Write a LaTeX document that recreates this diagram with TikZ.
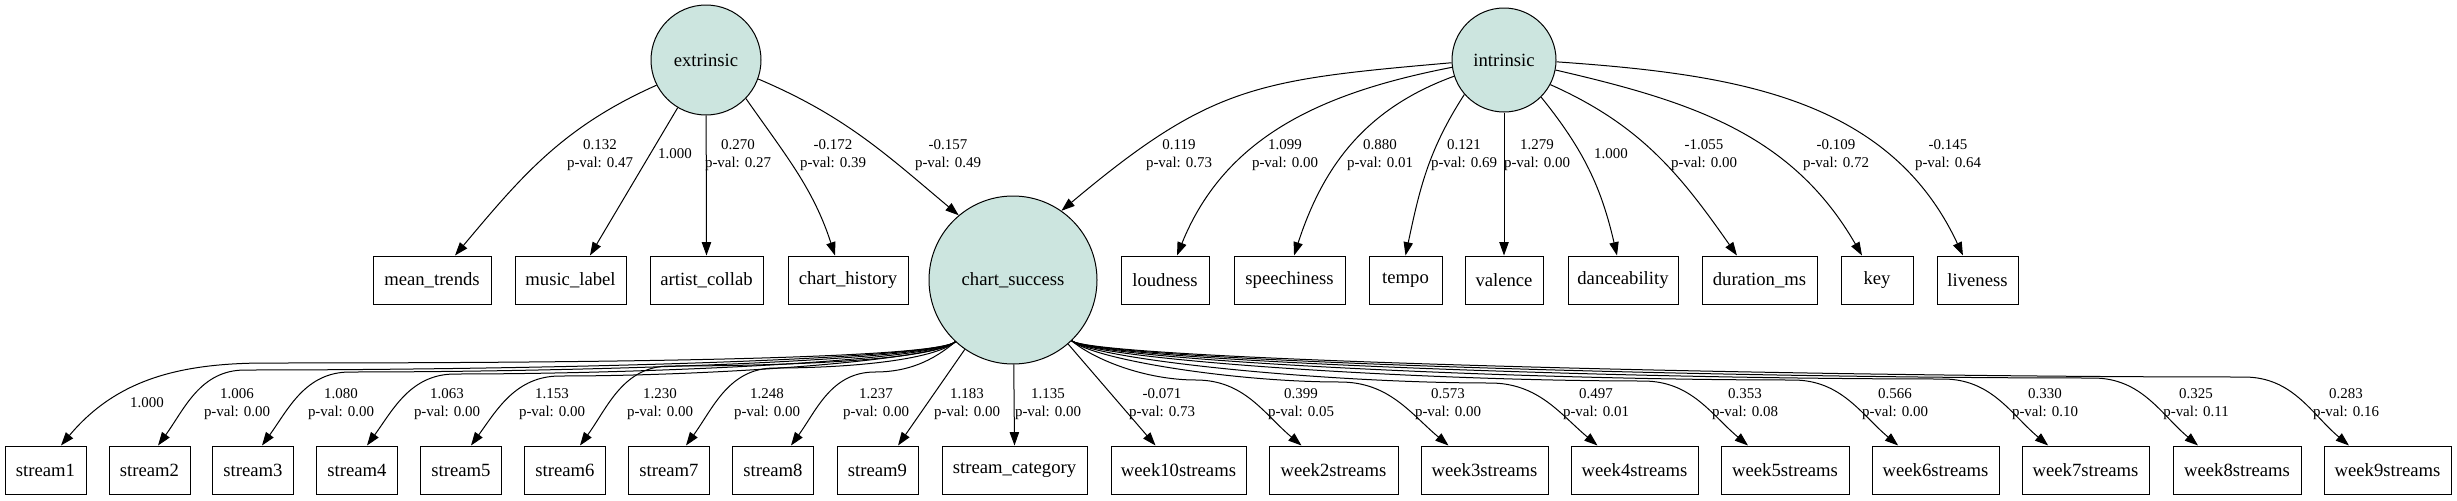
\documentclass[tikz,border=0pt]{standalone}
\usepackage{fontspec}
\setmainfont{Liberation Serif}
\usetikzlibrary{arrows.meta}
\definecolor{latfill}{RGB}{204,229,223}
\tikzset{every picture/.style={line width=0.75pt}}
\tikzset{
	lat/.style={draw, circle, fill=latfill, inner sep=0pt, font=\fontsize{14}{16}\selectfont},
	obs/.style={draw, rectangle, minimum height=36pt, inner sep=0pt, font=\fontsize{14}{16}\selectfont},
	lbl/.style={align=center, inner sep=0pt, font=\fontsize{11.2}{13.5}\selectfont},
	edge/.style={-{Triangle[length=10pt,width=7pt]}}}

\begin{document}
\begin{tikzpicture}[x=0.75pt,y=0.75pt,yscale=-1,xscale=1]
	\path (0,0) rectangle (2457,500); %keep the frame of the reference

	%Shape: Circle
	\draw (706,60) node[lat, minimum size=82.5pt] (ext) {extrinsic};
	%Shape: Circle
	\draw (1504,60) node[lat, minimum size=78pt] (int) {intrinsic};
	%Shape: Circle
	\draw (1013,280) node[lat, minimum size=126pt] (cs) {chart\_success};

	%Shape: Rectangle (upper row)
	\draw (432,280) node[obs, minimum width=88.5pt] (meantrends) {mean\_trends};
	\draw (570.5,280) node[obs, minimum width=83.25pt] (musiclabel) {music\_label};
	\draw (706.5,280) node[obs, minimum width=84.75pt] (artistcollab) {artist\_collab};
	\draw (848,280) node[obs, minimum width=90pt] (charthistory) {chart\_history};
	\draw (1165,280) node[obs, minimum width=66pt] (loudness) {loudness};
	\draw (1289.5,280) node[obs, minimum width=83.25pt] (speechiness) {speechiness};
	\draw (1405.5,280) node[obs, minimum width=54.75pt] (tempo) {tempo};
	\draw (1504,280) node[obs, minimum width=58.5pt] (valence) {valence};
	\draw (1623,280) node[obs, minimum width=82.5pt] (danceability) {danceability};
	\draw (1759.5,280) node[obs, minimum width=86.25pt] (durationms) {duration\_ms};
	\draw (1877,280) node[obs, minimum width=54pt] (key) {key};
	\draw (1977.5,280) node[obs, minimum width=60.75pt] (liveness) {liveness};

	%Shape: Rectangle (lower row)
	\draw (45.5,470) node[obs, minimum width=60.75pt] (stream1) {stream1};
	\draw (149.5,470) node[obs, minimum width=60.75pt] (stream2) {stream2};
	\draw (253,470) node[obs, minimum width=60.75pt] (stream3) {stream3};
	\draw (357,470) node[obs, minimum width=60.75pt] (stream4) {stream4};
	\draw (461,470) node[obs, minimum width=60.75pt] (stream5) {stream5};
	\draw (565,470) node[obs, minimum width=60.75pt] (stream6) {stream6};
	\draw (669,470) node[obs, minimum width=60.75pt] (stream7) {stream7};
	\draw (773,470) node[obs, minimum width=60.75pt] (stream8) {stream8};
	\draw (877.5,470) node[obs, minimum width=60.75pt] (stream9) {stream9};
	\draw (1014.5,470) node[obs, minimum width=108.75pt] (streamcat) {stream\_category};
	\draw (1178.5,470) node[obs, minimum width=101.25pt] (week10) {week10streams};
	\draw (1333.5,470) node[obs, minimum width=96.75pt] (week2) {week2streams};
	\draw (1484.5,470) node[obs, minimum width=95.25pt] (week3) {week3streams};
	\draw (1634.5,470) node[obs, minimum width=95.25pt] (week4) {week4streams};
	\draw (1785,470) node[obs, minimum width=96pt] (week5) {week5streams};
	\draw (1935.5,470) node[obs, minimum width=95.25pt] (week6) {week6streams};
	\draw (2085.5,470) node[obs, minimum width=95.25pt] (week7) {week7streams};
	\draw (2237,470) node[obs, minimum width=96pt] (week8) {week8streams};
	\draw (2387.5,470) node[obs, minimum width=95.25pt] (week9) {week9streams};

	%Curve Lines (extrinsic)
	\draw[edge] (ext.207) to[out=156,in=-50] ([xshift=17.25pt]meantrends.north);
	\draw[edge] (ext) -- ([xshift=14.6pt]musiclabel.north);
	\draw[edge] (ext) -- (artistcollab.north);
	\draw[edge] (ext.-44) to[out=55,in=-108] ([xshift=-9.75pt]charthistory.north);
	\draw[edge] (ext.-20) to[out=23,in=-140] (cs.130);

	%Curve Lines (intrinsic)
	\draw[edge] (int.183) to[out=175,in=-40,looseness=1.2] (cs.55);
	\draw[edge] (int.188) to[out=169,in=-68] ([xshift=9pt]loudness.north);
	\draw[edge] (int.198) to[out=160,in=-72] ([xshift=3.4pt]speechiness.north);
	\draw[edge] (int.221) to[out=123,in=-78] (tempo.north);
	\draw[edge] (int) -- (valence.north);
	\draw[edge] (int.-45) to[out=51,in=-103] ([xshift=-4.5pt]danceability.north);
	\draw[edge] (int.-28) to[out=24,in=-125] ([xshift=-16.9pt]durationms.north);
	\draw[edge] (int.-11) to[out=13,in=-120] ([xshift=-11.25pt]key.north);
	\draw[edge] (int.-2) to[out=4,in=-115] ([xshift=-10.9pt]liveness.north);

	%Curve Lines (chart_success, left)
	\draw[edge] (cs.227) to[out=140,in=0,out distance=22pt] (267,363) to[out=180,in=-50] ([xshift=11.6pt]stream1.north);
	\draw[edge] (cs.227) to[out=140,in=0,out distance=22pt] (245,370) to[out=180,in=-54] ([xshift=6.4pt]stream2.north);
	\draw[edge] (cs.227) to[out=140,in=0,out distance=22pt] (350,372) to[out=180,in=-54] ([xshift=6.75pt]stream3.north);
	\draw[edge] (cs.227) to[out=140,in=0,out distance=22pt] (455,374) to[out=180,in=-54] ([xshift=7.5pt]stream4.north);
	\draw[edge] (cs.227) to[out=140,in=0,out distance=22pt] (560,376) to[out=180,in=-54] ([xshift=7.5pt]stream5.north);
	\draw[edge] (cs.227) to[out=140,in=0,out distance=22pt] (670,366) to[out=180,in=-54] ([xshift=11.25pt]stream6.north);
	\draw[edge] (cs.227) to[out=140,in=0,out distance=22pt] (775,368) to[out=180,in=-54] ([xshift=12.75pt]stream7.north);
	\draw[edge] (cs.227) to[out=140,in=0,out distance=22pt] (875,372) to[out=180,in=-54] ([xshift=13.5pt]stream8.north);
	%Straight Lines
	\draw[edge] (cs) -- ([xshift=15.4pt]stream9.north);
	\draw[edge] (cs) -- (streamcat.north);
	\draw[edge] (cs) -- ([xshift=-17.25pt]week10.north);
	%Curve Lines (chart_success, right)
	\draw[edge] (cs.-46) to[out=40,in=180,out distance=22pt] (1196,380) to[out=0,in=-140] ([xshift=-24pt]week2.north);
	\draw[edge] (cs.-46) to[out=40,in=180,out distance=22pt] (1340,382) to[out=0,in=-140] ([xshift=-27pt]week3.north);
	\draw[edge] (cs.-46) to[out=40,in=180,out distance=22pt] (1490,383) to[out=0,in=-140] ([xshift=-27.75pt]week4.north);
	\draw[edge] (cs.-46) to[out=40,in=180,out distance=22pt] (1643,381) to[out=0,in=-140] ([xshift=-27.75pt]week5.north);
	\draw[edge] (cs.-46) to[out=40,in=180,out distance=22pt] (1793,380) to[out=0,in=-140] ([xshift=-28pt]week6.north);
	\draw[edge] (cs.-46) to[out=40,in=180,out distance=22pt] (1943,379) to[out=0,in=-140] ([xshift=-28pt]week7.north);
	\draw[edge] (cs.-46) to[out=40,in=180,out distance=22pt] (2093,378) to[out=0,in=-140] ([xshift=-29.25pt]week8.north);
	\draw[edge] (cs.-46) to[out=40,in=180,out distance=22pt] (2244,377) to[out=0,in=-140] ([xshift=-28.9pt]week9.north);

	% Text Node
	\draw (600,155) node[lbl] (l1) {0.132\\p-val: 0.47};
	\draw (675,154) node[lbl] (l2) {1.000};
	\draw (738,155) node[lbl] (l3) {0.270\\p-val: 0.27};
	\draw (833,155) node[lbl] (l4) {-0.172\\p-val: 0.39};
	\draw (948,155) node[lbl] (l5) {-0.157\\p-val: 0.49};
	\draw (1179,155) node[lbl] (l6) {0.119\\p-val: 0.73};
	\draw (1285,155) node[lbl] (l7) {1.099\\p-val: 0.00};
	\draw (1380,155) node[lbl] (l8) {0.880\\p-val: 0.01};
	\draw (1464,155) node[lbl] (l9) {0.121\\p-val: 0.69};
	\draw (1537,155) node[lbl] (l10) {1.279\\p-val: 0.00};
	\draw (1611,154) node[lbl] (l11) {1.000};
	\draw (1704,155) node[lbl] (l12) {-1.055\\p-val: 0.00};
	\draw (1836,155) node[lbl] (l13) {-0.109\\p-val: 0.72};
	\draw (1948,155) node[lbl] (l14) {-0.145\\p-val: 0.64};
	% Text Node
	\draw (147,403) node[lbl] (m1) {1.000};
	\draw (237,404) node[lbl] (m2) {1.006\\p-val: 0.00};
	\draw (341,404) node[lbl] (m3) {1.080\\p-val: 0.00};
	\draw (447,404) node[lbl] (m4) {1.063\\p-val: 0.00};
	\draw (552,404) node[lbl] (m5) {1.153\\p-val: 0.00};
	\draw (660,404) node[lbl] (m6) {1.230\\p-val: 0.00};
	\draw (767,404) node[lbl] (m7) {1.248\\p-val: 0.00};
	\draw (876,404) node[lbl] (m8) {1.237\\p-val: 0.00};
	\draw (967,404) node[lbl] (m9) {1.183\\p-val: 0.00};
	\draw (1048,404) node[lbl] (m10) {1.135\\p-val: 0.00};
	\draw (1162,404) node[lbl] (m11) {-0.071\\p-val: 0.73};
	\draw (1301,404) node[lbl] (m12) {0.399\\p-val: 0.05};
	\draw (1448,404) node[lbl] (m13) {0.573\\p-val: 0.00};
	\draw (1596,404) node[lbl] (m14) {0.497\\p-val: 0.01};
	\draw (1745,404) node[lbl] (m15) {0.353\\p-val: 0.08};
	\draw (1895,404) node[lbl] (m16) {0.566\\p-val: 0.00};
	\draw (2045,404) node[lbl] (m17) {0.330\\p-val: 0.10};
	\draw (2196,404) node[lbl] (m18) {0.325\\p-val: 0.11};
	\draw (2346,404) node[lbl] (m19) {0.283\\p-val: 0.16};

\end{tikzpicture}
\end{document}
